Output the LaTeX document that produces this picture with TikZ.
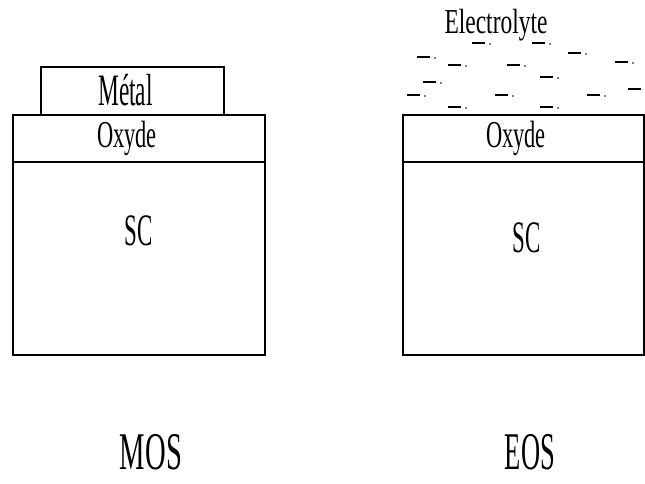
\documentclass[tikz,border=0pt]{standalone}
\usepackage{fontspec}
\setmainfont{Liberation Serif}
\usetikzlibrary{positioning}
\newcommand\labtxt[3]{\scalebox{#2}[1]{\fontsize{#1}{#1}\selectfont #3}}
\tikzset{
    layer/.style={draw, line width=1.6pt},
    charge/.style={line width=2.6pt},
    lbl/.style={inner sep=0pt, anchor=base}
}
\begin{document}
\begin{tikzpicture}[x=1pt, y=-1pt]
    \useasboundingbox (0,0) rectangle (645,483);

    % Define the corners of the MOS stack
    \coordinate (M1) at (41,67);
    \coordinate (M2) at (224,115);
    \coordinate (O1) at (13,115);
    \coordinate (O2) at (265,162);
    \coordinate (S2) at (265,355);

    % Define the corners of the EOS stack
    \coordinate (P1) at (403,115);
    \coordinate (P2) at (644,162);
    \coordinate (Q2) at (644,355);

    % Draw the layers
    \draw[layer] (M1) rectangle (M2);
    \draw[layer] (O1) rectangle (O2);
    \draw[layer] (O1 |- O2) rectangle (S2);
    \draw[layer] (P1) rectangle (P2);
    \draw[layer] (P1 |- P2) rectangle (Q2);

    % Charges of the electrolyte
    \foreach \x/\y in {472/43, 532/43, 417/57, 448/65, 507/65, 568/53, 615/62,
                       423/82, 540/77, 407/95, 495/95, 587/95, 628/89, 448/107, 540/107}{
        \draw[charge] (\x,\y) -- ++(13,0);
        \fill (\x+18,\y+1) circle (0.9);
    }

    % Place the labels
    \node[lbl] (metal) at (125.5,105) {\labtxt{45}{0.52}{Métal}};
    \node[lbl] (oxmos) at (127,147) {\labtxt{38}{0.59}{Oxyde}};
    \node[lbl] (scmos) at (139,245) {\labtxt{45}{0.51}{SC}};
    \node[lbl] (mos) at (151,469) {\labtxt{53}{0.54}{MOS}};
    \node[lbl] (elec) at (496,33) {\labtxt{35}{0.67}{Electrolyte}};
    \node[lbl] (oxeos) at (516,147) {\labtxt{38}{0.59}{Oxyde}};
    \node[lbl] (sceos) at (527,252) {\labtxt{45}{0.51}{SC}};
    \node[lbl] (eos) at (530,469) {\labtxt{53}{0.50}{EOS}};
\end{tikzpicture}
\end{document}
